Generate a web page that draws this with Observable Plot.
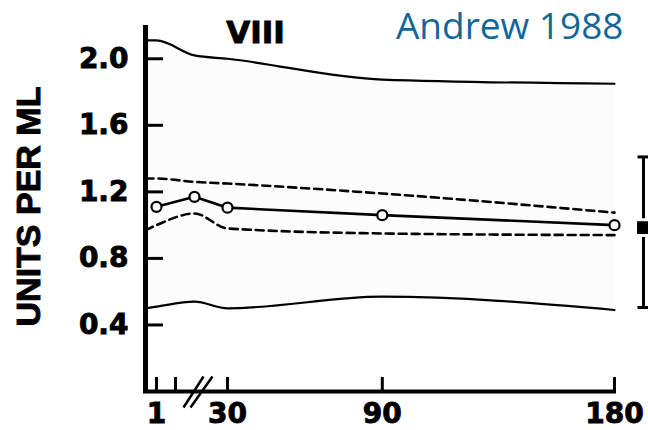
<!DOCTYPE html>
<html><head><meta charset="utf-8">
<script src="https://cdn.jsdelivr.net/npm/d3@7"></script>
<script src="https://cdn.jsdelivr.net/npm/@observablehq/plot@0.6"></script>
<style>
body{margin:0;background:#fff}
#chart g[font-weight="bold"] text{stroke:#000;stroke-width:0.9px;paint-order:normal}
</style>
</head><body><div id="chart"></div>
<script>
// Factor VIII (units per mL) over days of life
const days        = [0, 1, 5, 30, 90, 180];
const upperLimit  = [2.11, 2.11, 2.02, 2.0, 1.875, 1.85];
const upperDashed = [1.28, 1.28, 1.26, 1.25, 1.19, 1.075];
const lowerDashed = [0.97, 1.0, 1.07, 0.98, 0.95, 0.94];
const lowerLimit  = [0.50, 0.51, 0.54, 0.50, 0.57, 0.49];
const meanDays    = [1, 5, 30, 90, 180];
const meanValues  = [1.11, 1.17, 1.105, 1.06, 1.0];
const adultMean = 0.985, adultLow = 0.505, adultHigh = 1.41;
const yTicks = [0.4, 0.8, 1.2, 1.6, 2.0];
const xLabelTicks = [1, 30, 90, 180];
const xTickMarks = [1, 3, 30, 90, 180];
const title = "VIII";
const source = "Andrew 1988";
const yLabel = "UNITS PER ML";

const curves = days.map((d, i) => ({day: d, ul: upperLimit[i], ud: upperDashed[i], ld: lowerDashed[i], ll: lowerLimit[i]}));
const mean = meanDays.map((d, i) => ({day: d, v: meanValues[i]}));
const firstDay = d3.min(days), lastDay = d3.max(days);

const capSymbol = {draw(ctx, size) { const w = Math.sqrt(size / Math.PI); ctx.moveTo(-w, 0); ctx.lineTo(w, 0); }};
const breakSymbol = {draw(ctx, size) {
  const k = Math.sqrt(size / Math.PI) / 8;
  ctx.moveTo(-14 * k, 16 * k); ctx.lineTo(6 * k, -15 * k);
  ctx.moveTo(-7 * k, 16 * k); ctx.lineTo(15 * k, -15 * k);
}};

const chart = Plot.plot({
  width: 648, height: 430,
  marginLeft: 143, marginRight: 32, marginTop: 25, marginBottom: 39,
  style: {fontFamily: "DejaVu Sans", background: "white", color: "black", overflow: "visible"},
  x: {type: "linear", domain: [0, 1, 5, 30, 180], range: [145, 156, 194, 227, 614]},
  y: {domain: [0, 2.2], range: [391, 25]},
  marks: [
    Plot.areaY(curves, {x: "day", y1: "ll", y2: "ul", fill: "#000", fillOpacity: 0.012, curve: "monotone-x"}),
    Plot.axisY(yTicks, {tickSize: 0, tickPadding: 15, tickFormat: d3.format(".1f"), fontSize: 28, fontWeight: "bold", label: null}),
    Plot.axisX(xLabelTicks, {tickSize: 0, tickPadding: 12, tickFormat: d => String(d), fontSize: 28, fontWeight: "bold", label: null}),
    Plot.ruleX([0], {strokeWidth: 5}),
    Plot.ruleY([0], {strokeWidth: 4}),
    Plot.ruleY(yTicks, {x1: () => firstDay, x2: () => firstDay, insetRight: -18, stroke: "black", strokeWidth: 3}),
    Plot.ruleX(xTickMarks, {y1: () => 0, y2: () => 0, insetTop: -14, stroke: "black", strokeWidth: 3}),
    Plot.line(curves, {x: "day", y: "ul", strokeWidth: 2.2, curve: "monotone-x"}),
    Plot.line(curves, {x: "day", y: "ll", strokeWidth: 2.2, curve: "monotone-x"}),
    Plot.line(curves, {x: "day", y: "ud", strokeWidth: 2.6, strokeDasharray: "8,5", curve: "monotone-x"}),
    Plot.line(curves, {x: "day", y: "ld", strokeWidth: 2.6, strokeDasharray: "8,5", curve: "monotone-x"}),
    Plot.line(mean, {x: "day", y: "v", strokeWidth: 2.6}),
    Plot.dot(mean, {x: "day", y: "v", r: 5, fill: "white", stroke: "black", strokeWidth: 2.2}),
    // adult reference bar
    Plot.ruleX([{lo: adultLow, hi: adultHigh}], {x: () => lastDay, dx: 29, y1: "lo", y2: "hi", strokeWidth: 3}),
    Plot.dot([adultLow, adultHigh], {x: () => lastDay, dx: 29, y: d => d, symbol: capSymbol, r: 6, stroke: "black", strokeWidth: 3}),
    Plot.dot([adultMean], {x: () => lastDay, dx: 29, y: d => d, symbol: "square", r: 9, fill: "black", stroke: "white", strokeWidth: 3}),
    // axis break
    Plot.dot([0], {frameAnchor: "bottom-left", dx: 54, symbol: breakSymbol, r: 8, stroke: "black", strokeWidth: 2.5}),
    // texts
    Plot.text([title], {frameAnchor: "top-left", dx: 112, dy: 17, textAnchor: "middle", lineAnchor: "bottom", fontSize: 31, fontWeight: "bold", fontFamily: "DejaVu Sans"}),
    Plot.text([source], {frameAnchor: "top-right", dx: 7, dy: 13, textAnchor: "end", lineAnchor: "bottom", fontSize: 37, fontFamily: "Open Sans", fill: "#12679A"}),
    Plot.text([yLabel], {frameAnchor: "left", dx: -114, dy: -2, rotate: -90, textAnchor: "middle", lineAnchor: "middle", fontSize: 34, fontWeight: "bold", fontFamily: "Liberation Sans"})
  ]
});
document.getElementById("chart").appendChild(chart);
</script>
</body></html>
